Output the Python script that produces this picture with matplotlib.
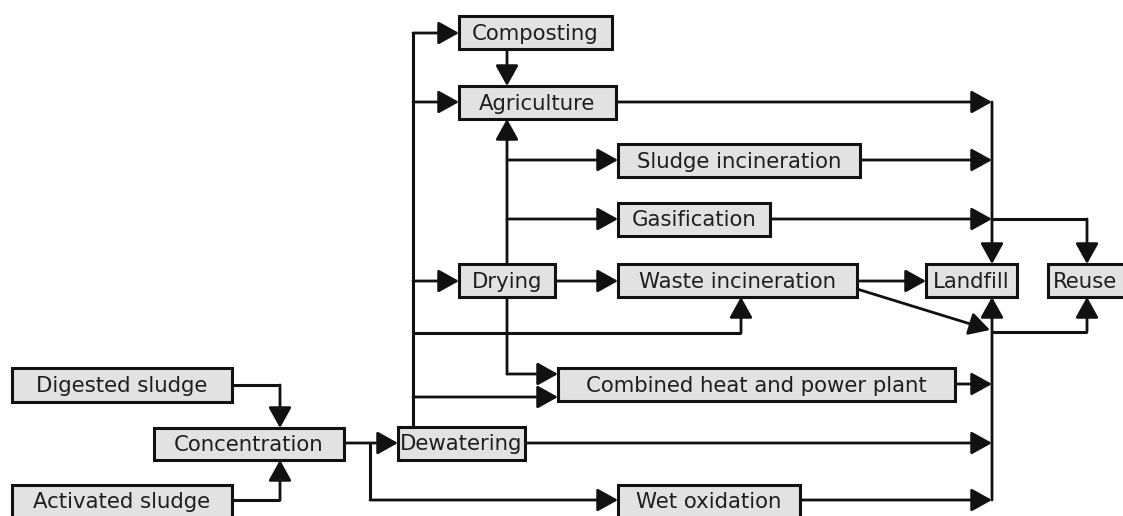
import matplotlib
matplotlib.use("Agg")
import matplotlib.pyplot as plt
from matplotlib.patches import Rectangle

# node labels
labels = [
    "Composting", "Agriculture", "Sludge incineration", "Gasification",
    "Drying", "Waste incineration", "Landfill", "Reuse",
    "Combined heat and power plant", "Digested sludge", "Concentration",
    "Activated sludge", "Dewatering", "Wet oxidation",
]

# layout in pixel units (x0, x1, y0, y1), y measured from the top
boxes = {
    "Composting": (459, 612, 16, 49),
    "Agriculture": (459, 616, 86, 119),
    "Sludge incineration": (618, 860, 144, 177),
    "Gasification": (618, 770, 203, 236),
    "Drying": (459, 555, 264, 297),
    "Waste incineration": (618, 857, 264, 297),
    "Landfill": (926, 1017, 264, 297),
    "Reuse": (1048, 1135, 264, 297),
    "Combined heat and power plant": (558, 955, 368, 401),
    "Digested sludge": (12, 232, 368, 402),
    "Concentration": (154, 344, 428, 460),
    "Activated sludge": (12, 232, 485, 525),
    "Dewatering": (398, 525, 427, 460),
    "Wet oxidation": (618, 800, 485, 525),
}

# connectors: polylines, arrowhead at the last point
arrows = [
    [(232, 385), (280, 385), (280, 428)],
    [(232, 500), (280, 500), (280, 460)],
    [(344, 443), (398, 443)],
    [(370, 443), (370, 500), (618, 500)],
    [(413, 427), (413, 33), (459, 33)],
    [(413, 102), (459, 102)],
    [(413, 281), (459, 281)],
    [(413, 333), (741, 333), (741, 297)],
    [(413, 397), (558, 397)],
    [(507, 49), (507, 86)],
    [(507, 374), (507, 119)],
    [(507, 374), (558, 374)],
    [(507, 160), (618, 160)],
    [(507, 219), (618, 219)],
    [(555, 281), (618, 281)],
    [(857, 281), (926, 281)],
    [(857, 289), (990, 330)],
    [(616, 102), (992, 102)],
    [(992, 102), (992, 264)],
    [(860, 160), (992, 160)],
    [(770, 219), (992, 219)],
    [(992, 219), (1087, 219), (1087, 264)],
    [(955, 384), (992, 384)],
    [(525, 443), (992, 443)],
    [(800, 500), (992, 500)],
    [(992, 500), (992, 297)],
    [(992, 332), (1087, 332), (1087, 297)],
]

W, H = 1123, 516
fig = plt.figure(figsize=(W / 100, H / 100), dpi=100)
ax = fig.add_axes([0, 0, 1, 1])
ax.set_xlim(0, W)
ax.set_ylim(H, 0)
ax.axis("off")

for pts in arrows:
    xs = [p[0] for p in pts]
    ys = [p[1] for p in pts]
    if len(pts) > 2:
        ax.plot(xs[:-1], ys[:-1], color="#111111", lw=2.2,
                solid_capstyle="butt", zorder=2)
    ax.annotate("", xy=pts[-1], xytext=pts[-2],
                arrowprops=dict(arrowstyle="-|>,head_length=0.9,head_width=0.5",
                                color="#111111", lw=2.0, shrinkA=0, shrinkB=0,
                                mutation_scale=14),
                zorder=2)

for name in labels:
    x0, x1, y0, y1 = boxes[name]
    if name == "Reuse":
        tx, ha = x0 + 5, "left"
    else:
        tx, ha = (x0 + x1) / 2, "center"
    ty = (y0 + y1) / 2 + 1 if y1 <= H else y0 + 17
    ax.add_patch(Rectangle((x0, y0), x1 - x0, y1 - y0, facecolor="#e2e2e2",
                           edgecolor="#111111", lw=2.2, zorder=3))
    ax.text(tx, ty, name, ha=ha, va="center", fontsize=15.3,
            color="#1e1e1e", zorder=4)

fig.savefig("out.png", dpi=100)
